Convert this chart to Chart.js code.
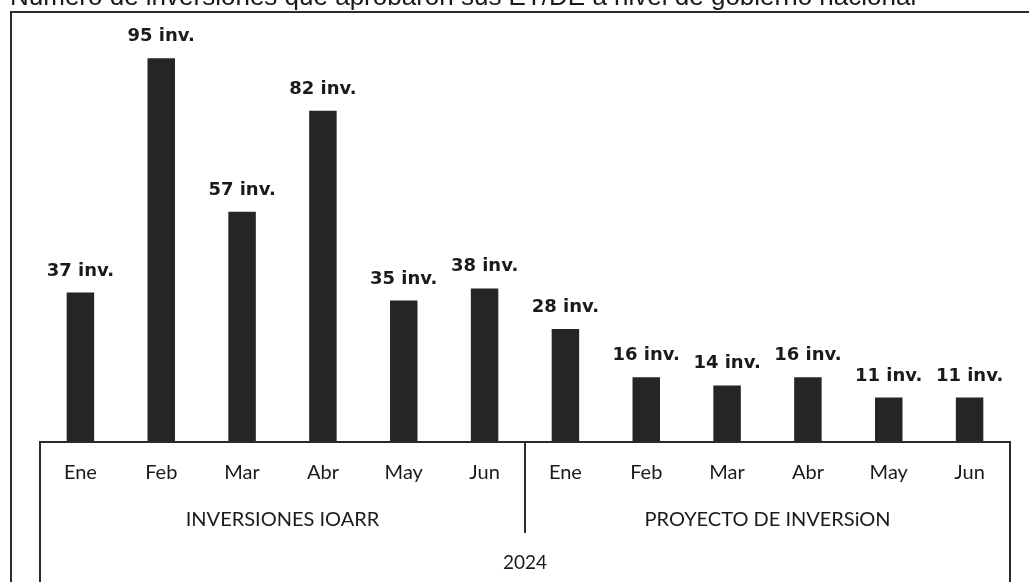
<!DOCTYPE html>
<html>
<head>
<meta charset="utf-8">
<script src="https://cdn.jsdelivr.net/npm/chart.js@4/dist/chart.umd.min.js"></script>
<style>
  html, body { margin: 0; padding: 0; background: #ffffff; overflow: hidden; }
  #wrap { position: relative; width: 1029px; height: 582px; overflow: hidden; }
  #title { position: absolute; left: 10px; top: -17px; font: 26px "Liberation Sans", Arial, sans-serif; line-height: 26px; color: #1a1a1a; white-space: nowrap; z-index: 2; }
  canvas { position: absolute; left: 0; top: 0; }
</style>
</head>
<body>
<div id="wrap">
  <div id="title">Número de inversiones que aprobaron sus ET/DE a nivel de gobierno nacional</div>
  <canvas id="c" width="1029" height="582"></canvas>
</div>
<script>
const months = ['Ene','Feb','Mar','Abr','May','Jun','Ene','Feb','Mar','Abr','May','Jun'];
const groupNames = ['INVERSIONES IOARR', 'PROYECTO DE INVERSiON'];
const yearLabel = '2024';
const ioarrValues = [37, 95, 57, 82, 35, 38];
const proyectoValues = [28, 16, 14, 16, 11, 11];
const valueSuffix = ' inv.';

const allValues = ioarrValues.concat(proyectoValues);
const LINE = '#2a2a2a';

const framePlugin = {
  id: 'framePlugin',
  afterDraw(chart) {
    const ctx = chart.ctx;
    const x = chart.scales.x;
    const area = chart.chartArea;
    const H = chart.height;
    ctx.save();
    ctx.strokeStyle = LINE;
    ctx.lineWidth = 2;
    // outer frame
    ctx.beginPath();
    ctx.moveTo(11, H);
    ctx.lineTo(11, 12);
    ctx.lineTo(chart.width, 12);
    ctx.stroke();
    // axis box
    const left = x.left, right = x.right, top = area.bottom;
    const mid = (x.getPixelForValue(5) + x.getPixelForValue(6)) / 2;
    ctx.beginPath();
    ctx.moveTo(left, H); ctx.lineTo(left, top); ctx.lineTo(right, top); ctx.lineTo(right, H);
    ctx.moveTo(mid, top); ctx.lineTo(mid, top + 91);
    ctx.stroke();
    // group labels
    ctx.fillStyle = '#1a1a1a';
    ctx.textAlign = 'center';
    ctx.textBaseline = 'middle';
    ctx.font = '20px Lato, "Open Sans", sans-serif';
    ctx.fillText(groupNames[0], (left + mid) / 2, top + 78);
    ctx.fillText(groupNames[1], (mid + right) / 2, top + 78);
    ctx.font = '19px Lato, "Open Sans", sans-serif';
    ctx.fillText(yearLabel, (left + right) / 2, top + 121);
    // value labels
    ctx.textBaseline = 'alphabetic';
    ctx.font = 'bold 18px "DejaVu Sans", sans-serif';
    const meta = chart.getDatasetMeta(0);
    meta.data.forEach((bar, i) => {
      ctx.fillText(allValues[i] + valueSuffix, bar.x, bar.y - 17);
    });
    ctx.restore();
  }
};

new Chart(document.getElementById('c'), {
  type: 'bar',
  data: {
    labels: months,
    datasets: [{
      data: allValues,
      backgroundColor: '#252525',
      borderWidth: 0,
      barPercentage: 0.34,
      categoryPercentage: 1.0
    }]
  },
  options: {
    responsive: false,
    animation: false,
    events: [],
    layout: { padding: { top: 38, left: 40, right: 19, bottom: 0 } },
    plugins: { legend: { display: false }, tooltip: { enabled: false }, title: { display: false } },
    scales: {
      x: {
        grid: { display: false },
        border: { display: false },
        ticks: { color: '#1a1a1a', font: { family: 'Lato, "Open Sans", sans-serif', size: 20 }, padding: 11, maxRotation: 0, autoSkip: false },
        afterFit(scale) { scale.height = 140; }
      },
      y: {
        display: false,
        min: 0,
        max: 100
      }
    }
  },
  plugins: [framePlugin]
});
</script>
</body>
</html>
